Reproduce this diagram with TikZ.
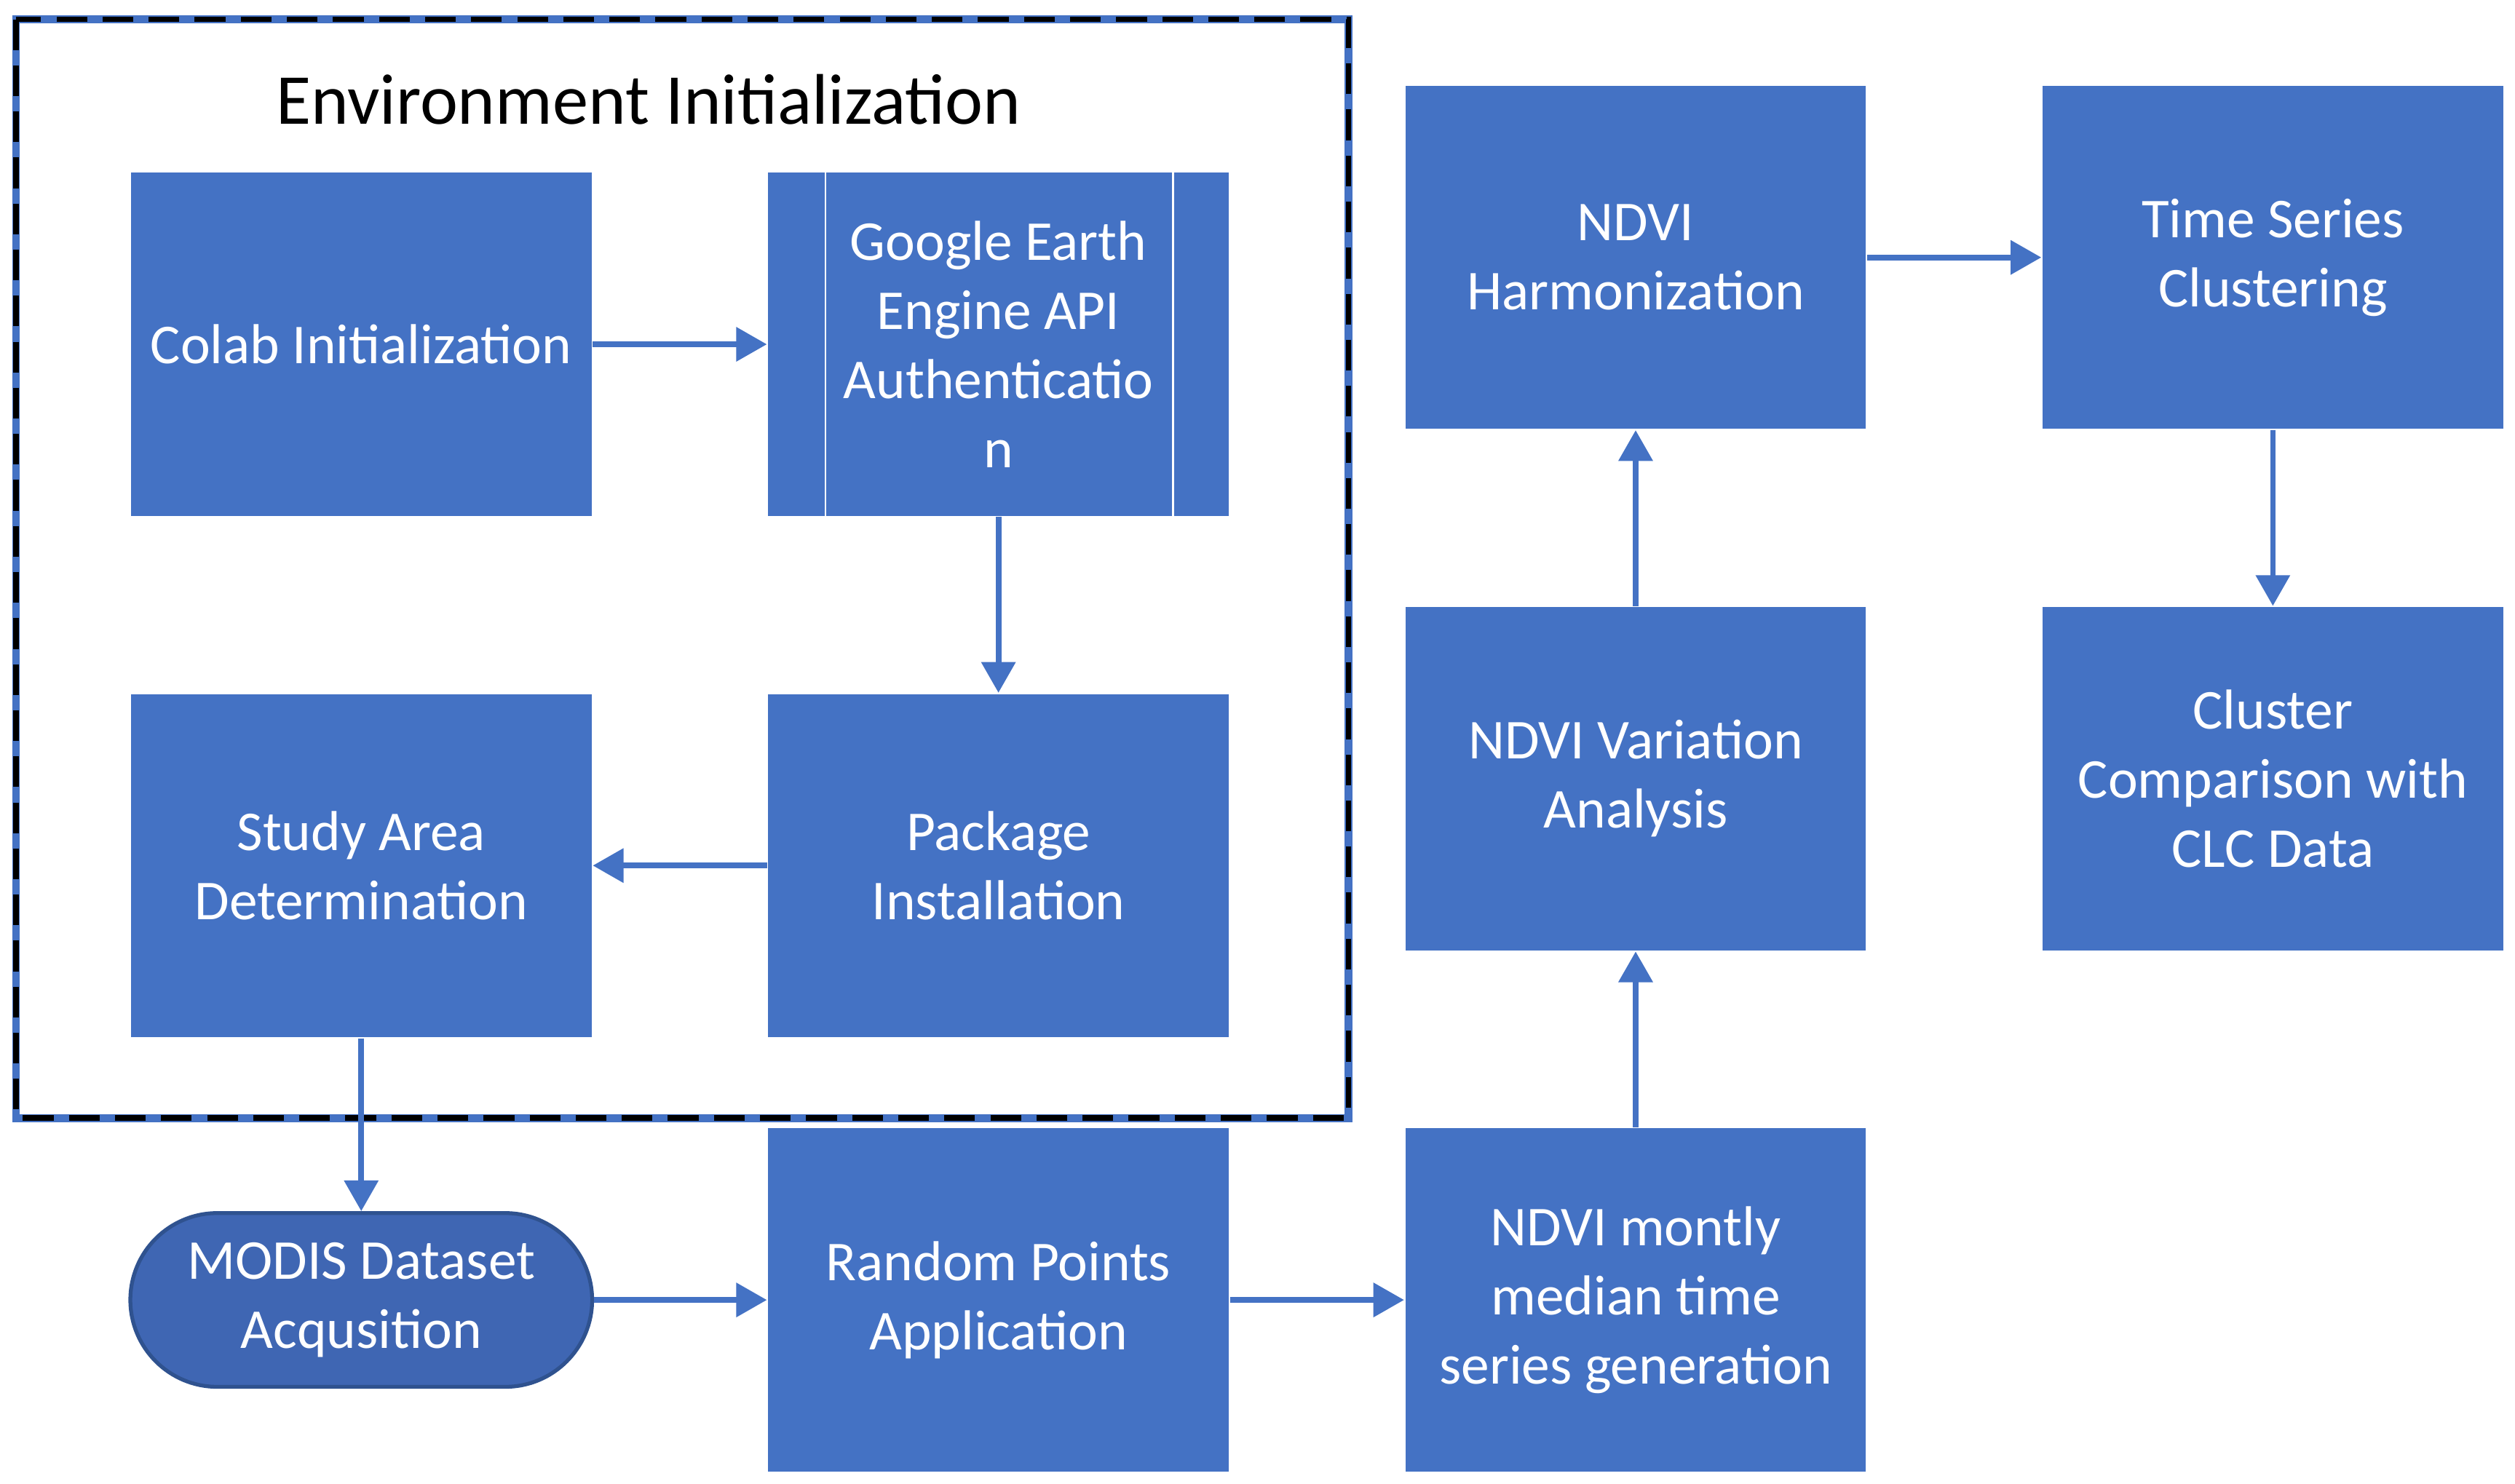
\documentclass[tikz,border=0pt]{standalone}
\usepackage{fontspec}
\setmainfont{Carlito}
\usetikzlibrary{arrows.meta}
\definecolor{bf}{HTML}{4472C4}
\definecolor{md}{HTML}{3F66B3}
\definecolor{mb}{HTML}{2F528F}
\begin{document}
\begin{tikzpicture}[x=0.0221cm,y=-0.0221cm,
 box/.style={fill=bf,draw=white,line width=0.5pt,minimum width=287*0.0221cm,minimum height=214*0.0221cm,text=white,align=center,font=\fontsize{22}{27}\selectfont,inner sep=0pt},
 arr/.style={draw=bf,line width=2.2pt,-{Triangle[length=12pt,width=13pt]}}]
\useasboundingbox (0,0) rectangle (1563,922);
\draw[bf,line width=3pt] (10,12) rectangle (838,695);
\draw[black,line width=2.2pt,dash pattern=on 12pt off 6pt] (10,12) rectangle (838,695);
\node[font=\fontsize{28}{33}\selectfont] (t) at (403,62) {Environment Initialization};
\node[box] (colab) at (224.5,214) {Colab Initialization};
\node[box] (gee) at (620.5,214) {Google Earth\\Engine API\\Authenticatio\\n};
\draw[white,line width=0.6pt] (513,107) -- (513,321) (729,107) -- (729,321);
\node[box] (study) at (224.5,538) {Study Area\\Determination};
\node[box] (pkg) at (620.5,538) {Package\\Installation};
\node[fill=md,draw=mb,line width=1.5pt,rounded corners=54*0.0221cm,minimum width=287*0.0221cm,minimum height=108*0.0221cm,text=white,align=center,font=\fontsize{22}{27}\selectfont,inner sep=0pt] (modis) at (224.5,808) {MODIS Dataset\\Acqusition};
\node[box] (rand) at (620.5,808) {Random Points\\Application};
\node[box] (mon) at (1016.5,808) {NDVI montly\\median time\\series generation};
\node[box] (var) at (1016.5,484) {NDVI Variation\\Analysis};
\node[box] (harm) at (1016.5,160) {NDVI\\Harmonization};
\node[box] (ts) at (1412.5,160) {Time Series\\Clustering};
\node[box] (cl) at (1412.5,484) {Cluster\\Comparison with\\CLC Data};
\draw[arr] (colab) -- (gee);
\draw[arr] (gee) -- (pkg);
\draw[arr] (pkg) -- (study);
\draw[arr] (study) -- (modis);
\draw[arr] (modis) -- (rand);
\draw[arr] (rand) -- (mon);
\draw[arr] (mon) -- (var);
\draw[arr] (var) -- (harm);
\draw[arr] (harm) -- (ts);
\draw[arr] (ts) -- (cl);
\end{tikzpicture}
\end{document}
